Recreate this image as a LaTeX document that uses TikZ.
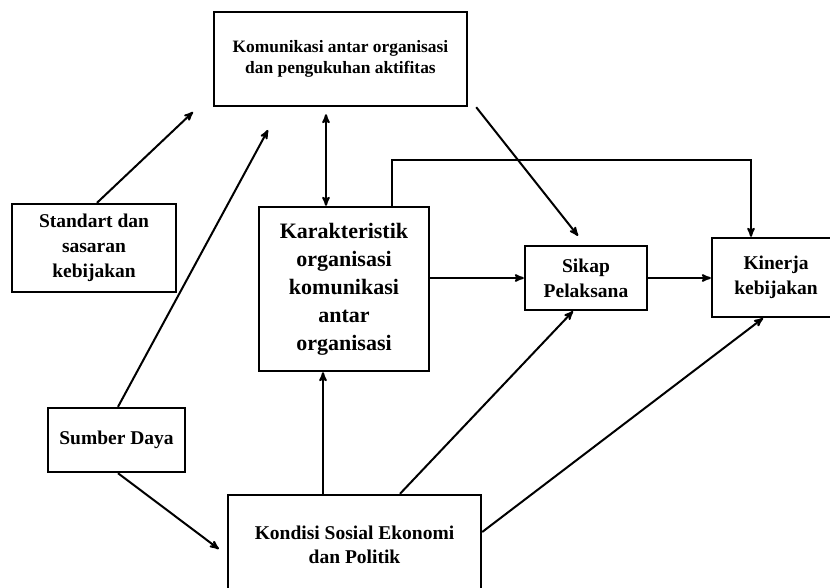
\documentclass[tikz,border=0pt]{standalone}
\usepackage{fontspec}
\setmainfont{Liberation Serif}
\usetikzlibrary{shapes,arrows}
\tikzstyle{blok} = [rectangle, draw=black, line width=2.4pt, align=center, inner sep=2pt, font=\bfseries\fontsize{19.5}{25}\selectfont]
\tikzstyle{panah} = [line width=2pt, >=stealth']

\begin{document}
\begin{tikzpicture}[x=1pt,y=-1pt]
	\clip (0,0) rectangle (830,588);
	\node[blok,minimum width=253pt,minimum height=94pt,font=\bfseries\fontsize{17.4}{21}\selectfont](1) at (340.5,59){Komunikasi antar organisasi\\dan pengukuhan aktifitas};
	\node[blok,minimum width=164pt,minimum height=88pt](2) at (94,248){Standart dan\\sasaran\\kebijakan};
	\node[blok,minimum width=170pt,minimum height=164pt,font=\bfseries\fontsize{22}{28}\selectfont](3) at (344,289){Karakteristik\\organisasi\\komunikasi\\antar\\organisasi};
	\node[blok,minimum width=122pt,minimum height=64pt](4) at (586,278){Sikap\\Pelaksana};
	\node[blok,minimum width=128pt,minimum height=79pt](5) at (776,277.5){Kinerja\\kebijakan};
	\node[blok,minimum width=137pt,minimum height=64pt](6) at (116.5,440){Sumber Daya};
	\node[blok,minimum width=253pt,minimum height=100pt,font=\bfseries\fontsize{19.5}{24}\selectfont](7) at (354.5,545){Kondisi Sosial Ekonomi\\dan Politik};
	\coordinate (a1) at (193,112);
	\coordinate (a2) at (268,130);
	\draw[panah,->] ([xshift=3pt]2.north) -- (a1);
	\draw[panah,->] ([xshift=1.5pt]6.north) -- (a2);
	\draw[panah,<->] ([xshift=-14.5pt,yshift=-7pt]1.south) -- ([xshift=-18pt]3.north);
	\draw[panah,->] ([xshift=8pt]1.south east) -- ([xshift=-8pt,yshift=9pt]4.north);
	\draw[panah,->] ([xshift=48pt]3.north) -- ++(0,-46) -| ([xshift=-25pt]5.north);
	\draw[panah,->] (4.west -| 3.east) -- (4.west);
	\draw[panah,->] (4.east) -- (4.east -| 5.west);
	\draw[panah,->] ([xshift=1.5pt]6.south) -- ([xshift=-8pt,yshift=-4pt]7.west);
	\draw[panah,->] ([xshift=-31.5pt]7.north) -- ([xshift=-21pt]3.south);
	\draw[panah,->] ([xshift=45.5pt]7.north) -- ([xshift=-13pt]4.south);
	\draw[panah,->] ([yshift=13pt]7.east) -- ([xshift=-13pt]5.south);
\end{tikzpicture}
\end{document}
